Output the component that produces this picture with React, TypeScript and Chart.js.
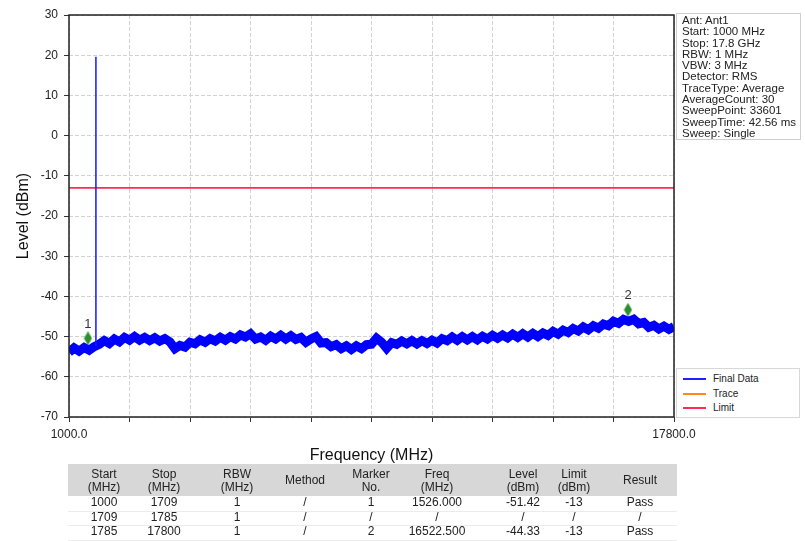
import React, { useEffect, useRef } from 'react';
import { Chart, registerables } from 'chart.js';

Chart.register(...registerables);

// ---------- data ----------
const FREQ_START = 1000;
const FREQ_STOP = 17800;
const FREQ_STEP = 140; // spacing of the read-off trace samples (MHz)
const FINAL_DATA = [
  -53.9, -52.8, -53.6, -52.7, -53.4, -52.5, -51.9, -51.0, -51.7, -50.6,
  -51.3, -50.2, -50.9, -50.0, -50.9, -50.2, -51.0, -50.3, -51.1, -50.5,
  -51.3, -53.0, -52.2, -52.6, -51.4, -51.8, -50.8, -51.4, -50.5, -51.1,
  -50.2, -50.9, -50.0, -50.6, -49.6, -50.1, -49.3, -50.6, -50.1, -50.9,
  -49.9, -50.6, -49.7, -50.6, -49.8, -50.7, -50.2, -51.4, -50.6, -50.0,
  -51.6, -51.5, -52.5, -52.0, -53.0, -52.3, -53.2, -52.3, -53.0, -52.0,
  -51.9, -50.4, -51.4, -52.9, -51.5, -51.9, -51.1, -51.8, -51.0, -51.8,
  -51.0, -51.7, -50.9, -51.6, -50.5, -51.0, -50.1, -50.9, -50.0, -50.8,
  -50.0, -50.8, -49.9, -50.6, -49.7, -50.4, -49.6, -50.3, -49.4, -50.2,
  -49.3, -50.1, -49.2, -50.0, -49.1, -49.7, -48.7, -49.4, -48.4, -49.0,
  -48.0, -48.6, -47.6, -48.3, -47.3, -47.9, -46.9, -47.3, -46.2, -46.7,
  -45.7, -46.2, -45.7, -46.8, -46.5, -47.7, -47.2, -48.1, -47.4, -48.2,
  -47.5,
];
const SPIKE_FREQ = 1747.5;
const SPIKE_LEVELS = [-52.4, 19.6];
const LIMIT_LEVEL = -13;
const MARKER_NO = ['1', '2'];
const MARKER_FREQ = [1526.0, 16522.5];
const MARKER_LEVEL = [-51.42, -44.33];
const Y_MIN = -70;
const Y_MAX = 30;
const Y_STEP = 10;
const X_DIVISIONS = 10;
const X_TICK_LABELS = ['1000.0', '17800.0'];

const INFO_LINES = [
  'Ant: Ant1',
  'Start: 1000 MHz',
  'Stop: 17.8 GHz',
  'RBW: 1 MHz',
  'VBW: 3 MHz',
  'Detector: RMS',
  'TraceType: Average',
  'AverageCount: 30',
  'SweepPoint: 33601',
  'SweepTime: 42.56 ms',
  'Sweep: Single',
];
const LEGEND_LABELS = ['Final Data', 'Trace', 'Limit'];
const LEGEND_COLORS = ['#2020ff', '#ff8a1c', '#ff2a55'];

const TABLE_HEAD = [
  ['Start', '(MHz)'],
  ['Stop', '(MHz)'],
  ['RBW', '(MHz)'],
  ['Method'],
  ['Marker', 'No.'],
  ['Freq', '(MHz)'],
  ['Level', '(dBm)'],
  ['Limit', '(dBm)'],
  ['Result'],
];
const TABLE_ROWS = [
  ['1000', '1709', '1', '/', '1', '1526.000', '-51.42', '-13', 'Pass'],
  ['1709', '1785', '1', '/', '/', '/', '/', '/', '/'],
  ['1785', '17800', '1', '/', '2', '16522.500', '-44.33', '-13', 'Pass'],
];

// ---------- layout / style ----------
const FONT = '"Liberation Sans", Arial, sans-serif';
const COL_CENTERS = [104, 164, 237, 305, 371, 437, 523, 574, 640];
const TRACE_BLUE = '#0000ff';
const LIMIT_RED = '#ff2a55';
const MARKER_GREEN = '#2b8f2b';

function makeDiamond(color: string) {
  const c = document.createElement('canvas');
  c.width = 9;
  c.height = 22;
  const g = c.getContext('2d')!;
  g.fillStyle = color;
  g.beginPath();
  g.moveTo(4.5, 0);
  g.lineTo(8.5, 7);
  g.lineTo(4.5, 14);
  g.lineTo(0.5, 7);
  g.closePath();
  g.fill();
  return c;
}

const framePlugin = {
  id: 'frameAndMarkers',
  afterDatasetsDraw(chart: any) {
    const { ctx, chartArea } = chart;
    const { left, top, right, bottom } = chartArea;
    ctx.save();
    ctx.strokeStyle = '#222';
    ctx.lineWidth = 1.5;
    ctx.strokeRect(Math.round(left), Math.round(top), Math.round(right - left), Math.round(bottom - top));
    const meta = chart.getDatasetMeta(3);
    ctx.fillStyle = '#333';
    ctx.font = `13px ${FONT}`;
    ctx.textAlign = 'center';
    ctx.textBaseline = 'middle';
    meta.data.forEach((el: any, i: number) => {
      ctx.fillText(MARKER_NO[i], el.x, el.y - 18);
    });
    ctx.restore();
  },
};

export default function App() {
  const ref = useRef<HTMLCanvasElement>(null);

  useEffect(() => {
    if (!ref.current) return;
    const diamond = makeDiamond(MARKER_GREEN);
    const traceData = FINAL_DATA.map((v, i) => ({ x: FREQ_START + i * FREQ_STEP, y: v }));
    const chart = new Chart(ref.current, {
      type: 'line',
      data: {
        datasets: [
          {
            label: 'Final Data',
            data: traceData,
            borderColor: TRACE_BLUE,
            backgroundColor: TRACE_BLUE,
            borderWidth: 9,
            borderJoinStyle: 'miter',
            pointRadius: 0,
            clip: 0,
            order: 4,
          },
          {
            label: 'Final Data spike',
            data: SPIKE_LEVELS.map((v) => ({ x: SPIKE_FREQ, y: v })),
            borderColor: '#1515ff',
            borderWidth: 1.5,
            pointRadius: 0,
            order: 2,
          },
          {
            label: 'Limit',
            data: [
              { x: FREQ_START, y: LIMIT_LEVEL },
              { x: FREQ_STOP, y: LIMIT_LEVEL },
            ],
            borderColor: LIMIT_RED,
            borderWidth: 1.6,
            pointRadius: 0,
            order: 3,
          },
          {
            label: 'Markers',
            data: MARKER_FREQ.map((f, i) => ({ x: f, y: MARKER_LEVEL[i] })),
            showLine: false,
            pointStyle: diamond as any,
            pointRadius: 5,
            order: 1,
          },
        ],
      },
      options: {
        animation: false,
        responsive: false,
        events: [],
        layout: { padding: { left: 0, top: 15, right: 131, bottom: 1 } },
        plugins: {
          legend: { display: false },
          tooltip: { enabled: false },
        },
        scales: {
          x: {
            type: 'linear',
            min: FREQ_START,
            max: FREQ_STOP,
            afterBuildTicks: (axis: any) => {
              const ticks = [];
              for (let i = 0; i <= X_DIVISIONS; i++) {
                ticks.push({ value: FREQ_START + (i * (FREQ_STOP - FREQ_START)) / X_DIVISIONS });
              }
              axis.ticks = ticks;
            },
            afterFit: (axis: any) => {
              axis.height = 52;
            },
            ticks: {
              autoSkip: false,
              maxRotation: 0,
              padding: 5,
              color: '#222',
              font: { family: FONT, size: 12 },
              callback: (_v: any, i: number, ticks: any[]) =>
                i === 0 ? X_TICK_LABELS[0] : i === ticks.length - 1 ? X_TICK_LABELS[1] : '',
            },
            grid: {
              color: '#d2d2d2',
              lineWidth: 1,
              tickColor: '#333',
              tickLength: 5,
            },
            border: { display: false, dash: [4, 2] },
            title: {
              display: true,
              text: 'Frequency (MHz)',
              color: '#111',
              font: { family: FONT, size: 16 },
              padding: { top: 4, bottom: 4 },
            },
          },
          y: {
            type: 'linear',
            min: Y_MIN,
            max: Y_MAX,
            afterFit: (axis: any) => {
              axis.width = 69;
            },
            ticks: {
              stepSize: Y_STEP,
              padding: 6,
              color: '#222',
              font: { family: FONT, size: 12 },
            },
            grid: {
              color: '#d2d2d2',
              lineWidth: 1,
              tickColor: '#333',
              tickLength: 5,
            },
            border: { display: false, dash: [4, 2] },
            title: {
              display: true,
              text: 'Level (dBm)',
              color: '#111',
              font: { family: FONT, size: 16 },
              padding: { top: 14, bottom: 0 },
            },
          },
        },
      },
      plugins: [framePlugin],
    } as any);
    return () => chart.destroy();
  }, []);

  return (
    <div
      style={{
        position: 'absolute',
        left: 0,
        top: 0,
        width: 805,
        height: 541,
        background: '#fff',
        fontFamily: FONT,
        color: '#222',
        overflow: 'hidden',
      }}
    >
      <canvas ref={ref} width={805} height={470} style={{ position: 'absolute', left: 0, top: 0, display: 'block' }} />

      {/* info box */}
      <div
        style={{
          position: 'absolute',
          left: 676,
          top: 13,
          width: 125,
          height: 127,
          border: '1px solid #cfcfcf',
          boxSizing: 'border-box',
          paddingLeft: 5,
          paddingTop: 1,
          fontSize: 11.5,
          lineHeight: '11.3px',
          whiteSpace: 'nowrap',
        }}
      >
        {INFO_LINES.map((t) => (
          <div key={t}>{t}</div>
        ))}
      </div>

      {/* legend */}
      <div
        style={{
          position: 'absolute',
          left: 676,
          top: 368,
          width: 124,
          height: 50,
          border: '1px solid #d8d8d8',
          boxSizing: 'border-box',
          background: '#fff',
        }}
      >
        {LEGEND_LABELS.map((t, i) => (
          <div
            key={t}
            style={{ position: 'absolute', left: 0, top: 3 + i * 14.5, height: 14, width: 122, fontSize: 10, lineHeight: '14px' }}
          >
            <div style={{ position: 'absolute', left: 6, top: 6, width: 23, height: 2, background: LEGEND_COLORS[i] }} />
            <div style={{ position: 'absolute', left: 36, top: 0 }}>{t}</div>
          </div>
        ))}
      </div>

      {/* table */}
      <div style={{ position: 'absolute', left: 68, top: 464, width: 609, height: 32, background: '#d7d7d7' }} />
      {TABLE_ROWS.map((_, r) => (
        <div
          key={'sep' + r}
          style={{ position: 'absolute', left: 68, top: 496 + (r + 1) * 14.5, width: 609, height: 1, background: '#ececec' }}
        />
      ))}
      {TABLE_HEAD.map((lines, c) => (
        <div
          key={'h' + c}
          style={{
            position: 'absolute',
            left: COL_CENTERS[c] - 45,
            top: 467,
            width: 90,
            height: 28,
            display: 'flex',
            flexDirection: 'column',
            justifyContent: 'center',
            alignItems: 'center',
            fontSize: 12,
            lineHeight: '13.5px',
          }}
        >
          {lines.map((l) => (
            <div key={l}>{l}</div>
          ))}
        </div>
      ))}
      {TABLE_ROWS.map((row, r) =>
        row.map((cell, c) => (
          <div
            key={'c' + r + '_' + c}
            style={{
              position: 'absolute',
              left: COL_CENTERS[c] - 45,
              top: 495 + r * 14.5,
              width: 90,
              height: 14.5,
              textAlign: 'center',
              fontSize: 12,
              lineHeight: '14.5px',
            }}
          >
            {cell}
          </div>
        ))
      )}
    </div>
  );
}
